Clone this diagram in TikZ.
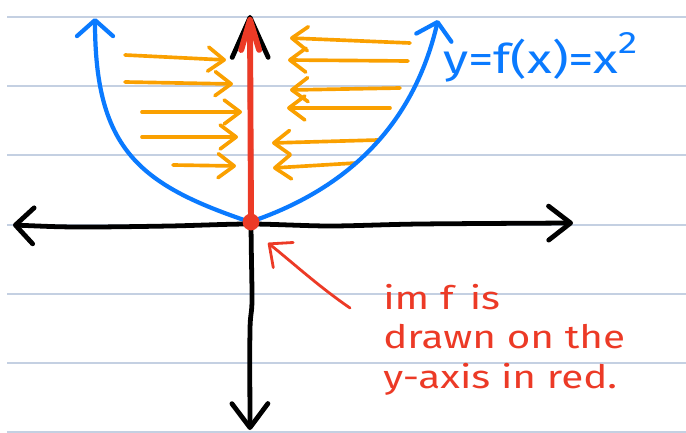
\documentclass[tikz,border=0pt]{standalone}
\usepackage{fontspec}
\newfontfamily\handfont{Fira Sans}[FakeStretch=1.25]
\usetikzlibrary{arrows.meta}
\definecolor{penblack}{RGB}{0,0,0}
\definecolor{penblue}{RGB}{10,122,255}
\definecolor{penorange}{RGB}{250,160,0}
\definecolor{penred}{RGB}{236,58,38}
\definecolor{ruleblue}{RGB}{196,208,226}
\tikzset{
  ruled/.style={draw=ruleblue, line width=1pt},
  axis/.style={draw=penblack, line width=3.4pt, line cap=round, line join=round},
  graph/.style={
    draw=penblue, line width=3pt, line cap=round, line join=round,
    arrows={Straight Barb[length=4mm,width=9mm,round]-Straight Barb[length=4mm,width=9mm,round]}
  },
  imline/.style={draw=penred, line width=4.2pt, line cap=round,
    -{Straight Barb[length=7.5mm,width=4.5mm,round]}},
  hint/.style={draw=penorange, line width=2.6pt, line cap=round,
    -{Straight Barb[length=4mm,width=6mm,round]}},
  pointer/.style={draw=penred, line width=2pt, line cap=round,
    -{Straight Barb[length=4.5mm,width=8mm,round]}},
  dot/.style={circle, fill=penred, minimum size=0.42cm, inner sep=0pt},
  graphlabel/.style={text=penblue, font=\handfont\fontsize{29}{32}\selectfont, inner sep=0pt},
  note/.style={text=penred, align=left, font=\handfont\fontsize{23}{28}\selectfont, inner sep=0pt}
}
\begin{document}
\begin{tikzpicture}[x=0.025cm,y=-0.025cm]
  \useasboundingbox (0,0) rectangle (686,433);
  \foreach \y in {17,86,155,225,294,363,432}
    \draw[ruled] (7,\y) -- (686,\y);

  \foreach \xa/\ya/\xb/\yb in {125/55/226/60,125/82/233/84,142/112/242/112,142/137/238/137,173/165/236/166,
                               410/43/290/38,408/61/288/60,400/88/290/90,390/108/287/108,378/140/272/143,356/163/273/168}
    \draw[hint] (\xa,\ya) -- (\xb,\yb);

  \coordinate (vertex) at (250,222);
  \draw[graph] (95,18) .. controls (95,150) and (140,185) .. (vertex)
    .. controls (330,195) and (410,140) .. (438,20);

  \draw[axis,arrows={Straight Barb[length=4.5mm,width=9mm,round]-Straight Barb[length=5.5mm,width=8.5mm,round]}]
    plot[smooth] coordinates {(13,225) (80,227) (170,226) (250,224) (330,226) (420,224) (573,223)};
  \draw[axis,arrows={Straight Barb[length=6mm,width=9mm,round]-Straight Barb[length=10mm,width=9mm,round]}]
    plot[smooth] coordinates {(250,430) (250,330) (252,300) (251,222) (250,15)};

  \node[dot] (origin) at (251,222) {};
  \coordinate (top) at (250,17);
  \draw[imline] (origin.center) -- (top);

  \node[graphlabel,anchor=base west] (fx) at (443,74)
    {y=f(x)=x\raisebox{0.5em}{\fontsize{22}{22}\selectfont 2}};
  \node[note,anchor=north west] (note) at (383,284)
    {im f\enspace is\\drawn on the\\y-axis in red.};

  \coordinate (tail) at (350,308);
  \coordinate (aim) at (268,243);
  \draw[pointer] (tail) .. controls (318,286) and (292,262) .. (aim);
\end{tikzpicture}
\end{document}
